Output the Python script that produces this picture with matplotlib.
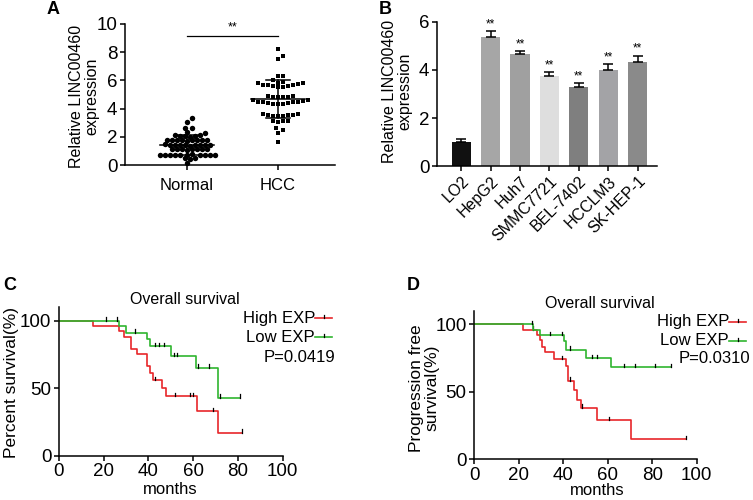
import matplotlib
matplotlib.use("Agg")
import matplotlib.pyplot as plt
import numpy as np

plt.rcParams['font.family'] = ['Liberation Sans', 'DejaVu Sans']
plt.rcParams['axes.linewidth'] = 1.1
plt.rcParams['xtick.major.width'] = 1.1
plt.rcParams['ytick.major.width'] = 1.1
plt.rcParams['xtick.major.size'] = 3.5
plt.rcParams['ytick.major.size'] = 3.5

W, H = 753, 500

# ---- panel A: scatter values ----
normal_vals = [3.3, 3.05, 2.6, 2.62, 2.35, 2.3,
               2.1, 2.08, 2.05, 2.1, 2.02, 2.06,
               1.8, 1.78, 1.75, 1.8, 1.72, 1.77, 1.8, 1.74, 1.76,
               1.45, 1.42, 1.4, 1.44, 1.38, 1.43, 1.41, 1.46, 1.39, 1.42,
               1.15, 1.12, 1.1, 1.14, 1.13, 1.08, 1.16, 1.11,
               0.72, 0.7, 0.74, 0.71, 0.69, 0.73, 0.7, 0.72, 0.68, 0.71, 0.75,
               0.47, 0.45, 0.48, 0.15]
hcc_vals = [8.2, 7.7, 7.55, 6.3, 6.3, 6.0,
            5.85, 5.8, 5.7, 5.65, 5.6, 5.55, 5.5, 5.6, 5.7, 5.75, 5.8, 5.9,
            4.85, 4.9, 4.85, 4.8, 4.9, 4.85,
            4.6, 4.5, 4.45, 4.4, 4.35, 4.4, 4.45, 4.5, 4.55, 4.6, 4.35, 4.3,
            3.55, 3.55, 3.5, 3.6, 3.5, 3.55, 3.6, 3.5,
            3.1, 3.05, 3.1, 3.15,
            2.6, 2.5, 2.3, 1.65]
groups_a = ['Normal', 'HCC']

# ---- panel B: cell lines ----
cell_lines = ['LO2', 'HepG2', 'Huh7', 'SMMC7721', 'BEL-7402', 'HCCLM3', 'SK-HEP-1']
cell_means = [1.0, 5.36, 4.65, 3.75, 3.28, 4.01, 4.32]
cell_errs = [0.14, 0.26, 0.14, 0.17, 0.18, 0.22, 0.28]
cell_colors = ['#111111', '#a6a6a6', '#a0a0a0', '#dedede', '#7f7f7f', '#a3a3a6', '#8a8a8a']

# ---- panel C: overall survival ----
c_high_t = [0, 15.3, 26.8, 29.2, 32, 35, 39.2, 40.5, 42, 46, 47.8, 61.8, 71.2]
c_high_s = [100, 96, 92, 88, 79, 75, 66, 61, 56, 50, 44, 33, 17]
c_high_end = 82
c_high_cens = [43, 52, 58.5, 60, 69, 82]
c_low_t = [0, 26.9, 30, 39.5, 40.6, 49.9, 61.1, 71.2]
c_low_s = [100, 96, 91, 86.6, 81, 73.5, 65, 43]
c_low_end = 81
c_low_cens = [21, 26.1, 34, 43, 44.8, 46.9, 51.6, 52.9, 62.0, 67.2, 72, 81]

# ---- panel D: progression free survival ----
d_high_t = [0, 21.8, 28.4, 29.5, 30.5, 31.6, 36, 41.1, 42, 45, 46, 48, 55.1, 70.4]
d_high_s = [100, 96, 92, 88, 83, 79, 74, 69, 58, 51, 44, 38, 29, 14.6]
d_high_end = 95.4
d_high_cens = [26.5, 39.4, 43, 48.5, 60.4, 95.4]
d_low_t = [0, 26.3, 29.6, 40.4, 41.1, 50.2, 61.4]
d_low_s = [100, 96, 92, 87.5, 81, 75, 68]
d_low_end = 88.4
d_low_cens = [25.9, 34.1, 39.4, 43.1, 52.9, 55.1, 67.1, 72.3, 81.4, 88.4]

RED = '#e8262a'
GREEN = '#2fb52f'
TICK_FS = 13.5


def add_ax(l, t, r, b):
    return fig.add_axes([l / W, 1 - b / H, (r - l) / W, (b - t) / H])


def swarm(vals, dx, dy):
    vals = np.asarray(vals, float)
    xs = np.zeros(len(vals))
    placed = []
    for i in np.argsort(vals):
        y = vals[i]
        for k in range(400):
            off = ((k + 1) // 2) * dx * 0.5 * (1 if k % 2 else -1)
            ok = all(((off - px) / dx) ** 2 + ((y - py) / dy) ** 2 >= 0.8 for px, py in placed)
            if ok:
                break
        xs[i] = off
        placed.append((off, y))
    return xs


def style(ax):
    for s in ['top', 'right']:
        ax.spines[s].set_visible(False)
    ax.tick_params(labelsize=TICK_FS, direction='out', pad=2)


fig = plt.figure(figsize=(W / 100, H / 100), dpi=100)

# ================= A =================
axA = add_ax(125, 24, 335, 165)
style(axA)
px_x, px_y = 91.0, 14.1
d = 5.0
for gi, (vals, mk) in enumerate([(normal_vals, 'o'), (hcc_vals, 's')]):
    xs = swarm(vals, d / px_x, d / px_y)
    axA.plot(gi + xs, vals, mk, color='black', ms=3.9 if mk == 'o' else 3.5,
             markeredgewidth=0, clip_on=False)
    m, sd = np.mean(vals), np.std(vals, ddof=1)
    axA.plot([gi - 0.3, gi + 0.3], [m, m], color='black', lw=1.1)
    axA.plot([gi, gi], [m - sd, m + sd], color='black', lw=1.1)
    axA.plot([gi - 0.13, gi + 0.13], [m + sd] * 2, color='black', lw=1.1)
    axA.plot([gi - 0.13, gi + 0.13], [m - sd] * 2, color='black', lw=1.1)
axA.plot([0, 1], [9.15, 9.15], color='black', lw=0.9, clip_on=False)
axA.text(0.5, 9.35, '**', ha='center', va='bottom', fontsize=9)
axA.set_xlim(-62 / px_x, 1 + 57 / px_x)
axA.set_ylim(0, 10)
axA.set_yticks([0, 2, 4, 6, 8, 10])
axA.set_xticks([0, 1])
axA.set_xticklabels(groups_a, fontsize=12)
axA.tick_params(axis='x', pad=6)
axA.set_ylabel('Relative LINC00460\nexpression', fontsize=11.5, linespacing=1.0)
axA.yaxis.label.set_va('center')
axA.yaxis.set_label_coords((84 - 125) / 210, 1 - (96 - 24) / 141)

# ================= B =================
axB = add_ax(437, 22, 657, 166)
style(axB)
xb = np.arange(len(cell_lines))
axB.bar(xb, cell_means, width=0.65, color=cell_colors, edgecolor='none')
axB.errorbar(xb, cell_means, yerr=[np.zeros(len(cell_errs)), cell_errs], fmt='none',
             ecolor='black', elinewidth=1.1, capsize=3.6, capthick=1.1)
for x, m, e in zip(xb[1:], cell_means[1:], cell_errs[1:]):
    axB.text(x, m + e + 0.03, '**', ha='center', va='bottom', fontsize=8.5)
axB.set_xlim(-0.82, 6.66)
axB.set_ylim(0, 6)
axB.set_yticks([0, 2, 4, 6])
axB.set_xticks(xb)
axB.set_xticklabels(cell_lines, rotation=45, ha='right', rotation_mode='anchor', fontsize=11.5)
axB.set_ylabel('Relative LINC00460\nexpression', fontsize=11.5, linespacing=1.0)
axB.yaxis.label.set_va('center')
axB.yaxis.set_label_coords((397 - 437) / 220, 1 - (91 - 22) / 144)


# ================= C / D =================
def km(ax, t, s, end, cens, color):
    tt = list(t) + [end]
    ss = list(s) + [s[-1]]
    ax.step(tt, ss, where='post', color=color, lw=1.2, clip_on=False)
    t_arr = np.asarray(t)
    for c in cens:
        yv = s[np.searchsorted(t_arr, c, side='right') - 1]
        ax.plot([c, c], [yv, yv + 2.5], color='black', lw=0.9, clip_on=False)


def km_panel(box, curves, ylabel, ylab_fs, ylab_px, xlab_px, title_px, pval, leg_px, p_px):
    l, t, r, b = box
    ax = add_ax(l, t, r, b)
    style(ax)
    for args in curves:
        km(ax, *args)
    ax.set_xlim(0, 100)
    ax.set_ylim(0, 110)
    ax.set_xticks([0, 20, 40, 60, 80, 100])
    ax.set_yticks([0, 50, 100])
    ax.set_ylabel(ylabel, fontsize=ylab_fs, linespacing=1.0)
    ax.yaxis.label.set_va('center')
    ax.yaxis.set_label_coords((ylab_px[0] - l) / (r - l), 1 - (ylab_px[1] - t) / (b - t))
    ax.set_xlabel('months', fontsize=12)
    ax.xaxis.label.set_va('center')
    ax.xaxis.set_label_coords((xlab_px[0] - l) / (r - l), 1 - (xlab_px[1] - t) / (b - t))
    ax.set_title('Overall survival', fontsize=11.5, pad=0)
    ax.title.set_va('center')
    ax.title.set_position(((title_px[0] - l) / (r - l), 1 - (title_px[1] - t) / (b - t)))
    # legend: text right-aligned with line sample to its right
    for (name, color), yy in zip([('High EXP', RED), ('Low EXP', GREEN)], leg_px[1]):
        xr = leg_px[0]
        fy = 1 - yy / H
        fig.text(xr / W, fy, name, ha='right', va='center', fontsize=12)
        fig.add_artist(plt.Line2D([xr / W, (xr + 17) / W], [fy, fy], color=color, lw=1.2))
        fig.add_artist(plt.Line2D([(xr + 9) / W] * 2, [fy, fy + 3 / H], color='black', lw=0.9))
    fig.text(p_px[0] / W, 1 - p_px[1] / H, pval, ha='right', va='center', fontsize=12)
    return ax


axC = km_panel((59, 307, 282.7, 455.7),
               [(c_high_t, c_high_s, c_high_end, c_high_cens, RED),
                (c_low_t, c_low_s, c_low_end, c_low_cens, GREEN)],
               'Percent survival(%)', 12.5, (12, 382), (170, 489), (185, 295),
               'P=0.0419', (315, [318, 337]), (335, 357))

axD = km_panel((474.3, 310.7, 696.7, 459),
               [(d_high_t, d_high_s, d_high_end, d_high_cens, RED),
                (d_low_t, d_low_s, d_low_end, d_low_cens, GREEN)],
               'Progression free\nsurvival(%)', 12.5, (424, 388), (597, 490), (600, 298),
               'P=0.0310', (729, [321.7, 340.5]), (750, 358.3))

# panel letters
for lab, (x, y) in zip('ABCD', [(53, 9), (385, 10), (10, 285), (413, 285)]):
    fig.text(x / W, 1 - y / H, lab, fontsize=13, fontweight='bold', ha='center', va='center')

plt.savefig('out.png', dpi=100)
plt.close()
